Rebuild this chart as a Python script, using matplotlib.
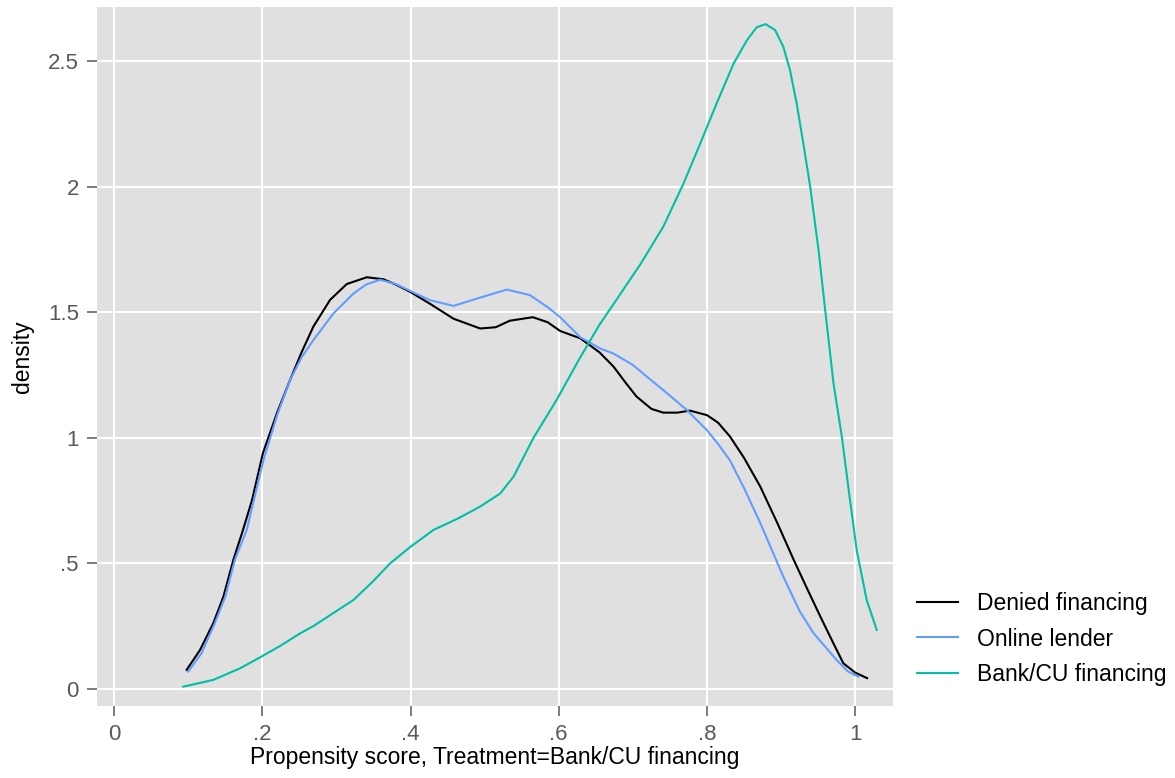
import matplotlib
matplotlib.use('Agg')
import matplotlib.pyplot as plt

plt.rcParams['font.family'] = ['Liberation Sans', 'DejaVu Sans']

# Densidades (x = propension, y = densidad)
denied_x = [0.098, 0.116, 0.134, 0.1475, 0.161, 0.174, 0.186, 0.201, 0.220, 0.2375,
            0.253, 0.269, 0.2915, 0.314, 0.341, 0.3635, 0.380, 0.400, 0.426, 0.458,
            0.494, 0.515, 0.534, 0.565, 0.585, 0.602, 0.629, 0.655, 0.674, 0.690,
            0.705, 0.725, 0.741, 0.760, 0.777, 0.800, 0.815, 0.831, 0.850, 0.872,
            0.895, 0.917, 0.935, 0.953, 0.970, 0.984, 1.000, 1.016]
denied_y = [0.076, 0.155, 0.262, 0.367, 0.514, 0.633, 0.750, 0.940, 1.100, 1.230,
            1.340, 1.443, 1.549, 1.612, 1.639, 1.631, 1.610, 1.580, 1.534, 1.474,
            1.435, 1.440, 1.466, 1.480, 1.460, 1.425, 1.396, 1.340, 1.283, 1.220,
            1.164, 1.115, 1.100, 1.100, 1.108, 1.090, 1.060, 1.005, 0.920, 0.805,
            0.660, 0.514, 0.400, 0.288, 0.185, 0.102, 0.065, 0.043]

online_x = [0.100, 0.118, 0.136, 0.150, 0.163, 0.179, 0.2015, 0.220, 0.2375, 0.253,
            0.269, 0.296, 0.323, 0.340, 0.359, 0.380, 0.400, 0.426, 0.458, 0.494,
            0.530, 0.561, 0.585, 0.602, 0.629, 0.656, 0.674, 0.700, 0.719, 0.745,
            0.773, 0.800, 0.815, 0.831, 0.850, 0.872, 0.888, 0.903, 0.925, 0.944,
            0.975, 0.990, 1.004]
online_y = [0.069, 0.142, 0.262, 0.367, 0.514, 0.633, 0.910, 1.090, 1.230, 1.320,
            1.389, 1.495, 1.574, 1.610, 1.629, 1.612, 1.584, 1.548, 1.525, 1.558,
            1.590, 1.568, 1.520, 1.480, 1.400, 1.355, 1.335, 1.290, 1.243, 1.180,
            1.110, 1.030, 0.975, 0.910, 0.800, 0.660, 0.550, 0.447, 0.310, 0.221,
            0.115, 0.070, 0.049]

bank_x = [0.0935, 0.134, 0.170, 0.199, 0.224, 0.251, 0.270, 0.300, 0.323, 0.350,
          0.3725, 0.400, 0.431, 0.465, 0.494, 0.521, 0.539, 0.566, 0.597, 0.629,
          0.655, 0.678, 0.710, 0.741, 0.768, 0.791, 0.813, 0.836, 0.854, 0.867,
          0.879, 0.892, 0.903, 0.912, 0.921, 0.930, 0.939, 0.9505, 0.9595, 0.9707,
          0.982, 0.993, 1.002, 1.0155, 1.029]
bank_y = [0.009, 0.036, 0.082, 0.129, 0.171, 0.221, 0.252, 0.310, 0.354, 0.430,
          0.500, 0.566, 0.633, 0.680, 0.726, 0.778, 0.845, 1.000, 1.150, 1.320,
          1.450, 1.550, 1.690, 1.840, 2.010, 2.172, 2.331, 2.490, 2.583, 2.634,
          2.647, 2.623, 2.557, 2.464, 2.331, 2.172, 2.005, 1.748, 1.509, 1.217,
          1.004, 0.752, 0.553, 0.354, 0.235]

x_ticks = [0, 0.2, 0.4, 0.6, 0.8, 1.0]
x_labels = ['0', '.2', '.4', '.6', '.8', '1']
y_ticks = [0, 0.5, 1.0, 1.5, 2.0, 2.5]
y_labels = ['0', '.5', '1', '1.5', '2', '2.5']

fig = plt.figure(figsize=(11.75, 7.78), dpi=100)
ax = fig.add_axes([97/1175, 1 - 706/778, 796/1175, 699/778])
ax.set_facecolor('#E0E0E0')
for s in ax.spines.values():
    s.set_visible(False)

ax.plot(denied_x, denied_y, color='black', lw=1.5, solid_joinstyle='round',
        label='Denied financing')
ax.plot(online_x, online_y, color='#619CFF', lw=1.5, solid_joinstyle='round',
        label='Online lender')
ax.plot(bank_x, bank_y, color='#00BFA4', lw=1.5, solid_joinstyle='round',
        label='Bank/CU financing')

ax.set_xlim(-0.023, 1.051)
ax.set_ylim(-0.068, 2.715)
ax.set_xticks(x_ticks)
ax.set_xticklabels(x_labels)
ax.set_yticks(y_ticks)
ax.set_yticklabels(y_labels)
ax.grid(True, color='white', lw=1.5)
ax.set_axisbelow(True)
ax.tick_params(direction='out', length=7.5, width=1.2, color='#666666',
               labelcolor='#595959', labelsize=16, pad=5.5)

ax.set_xlabel('Propensity score, Treatment=Bank/CU financing', fontsize=16.5, labelpad=1)
ax.set_ylabel('density', fontsize=16.5, labelpad=10)

ax.legend(loc='center left', bbox_to_anchor=(917/1175, 1 - 639/778),
          bbox_transform=fig.transFigure, frameon=False, fontsize=16.5,
          borderpad=0, borderaxespad=0, handlelength=1.8, handletextpad=0.8,
          labelspacing=0.53)

fig.savefig('out.png', dpi=100)
